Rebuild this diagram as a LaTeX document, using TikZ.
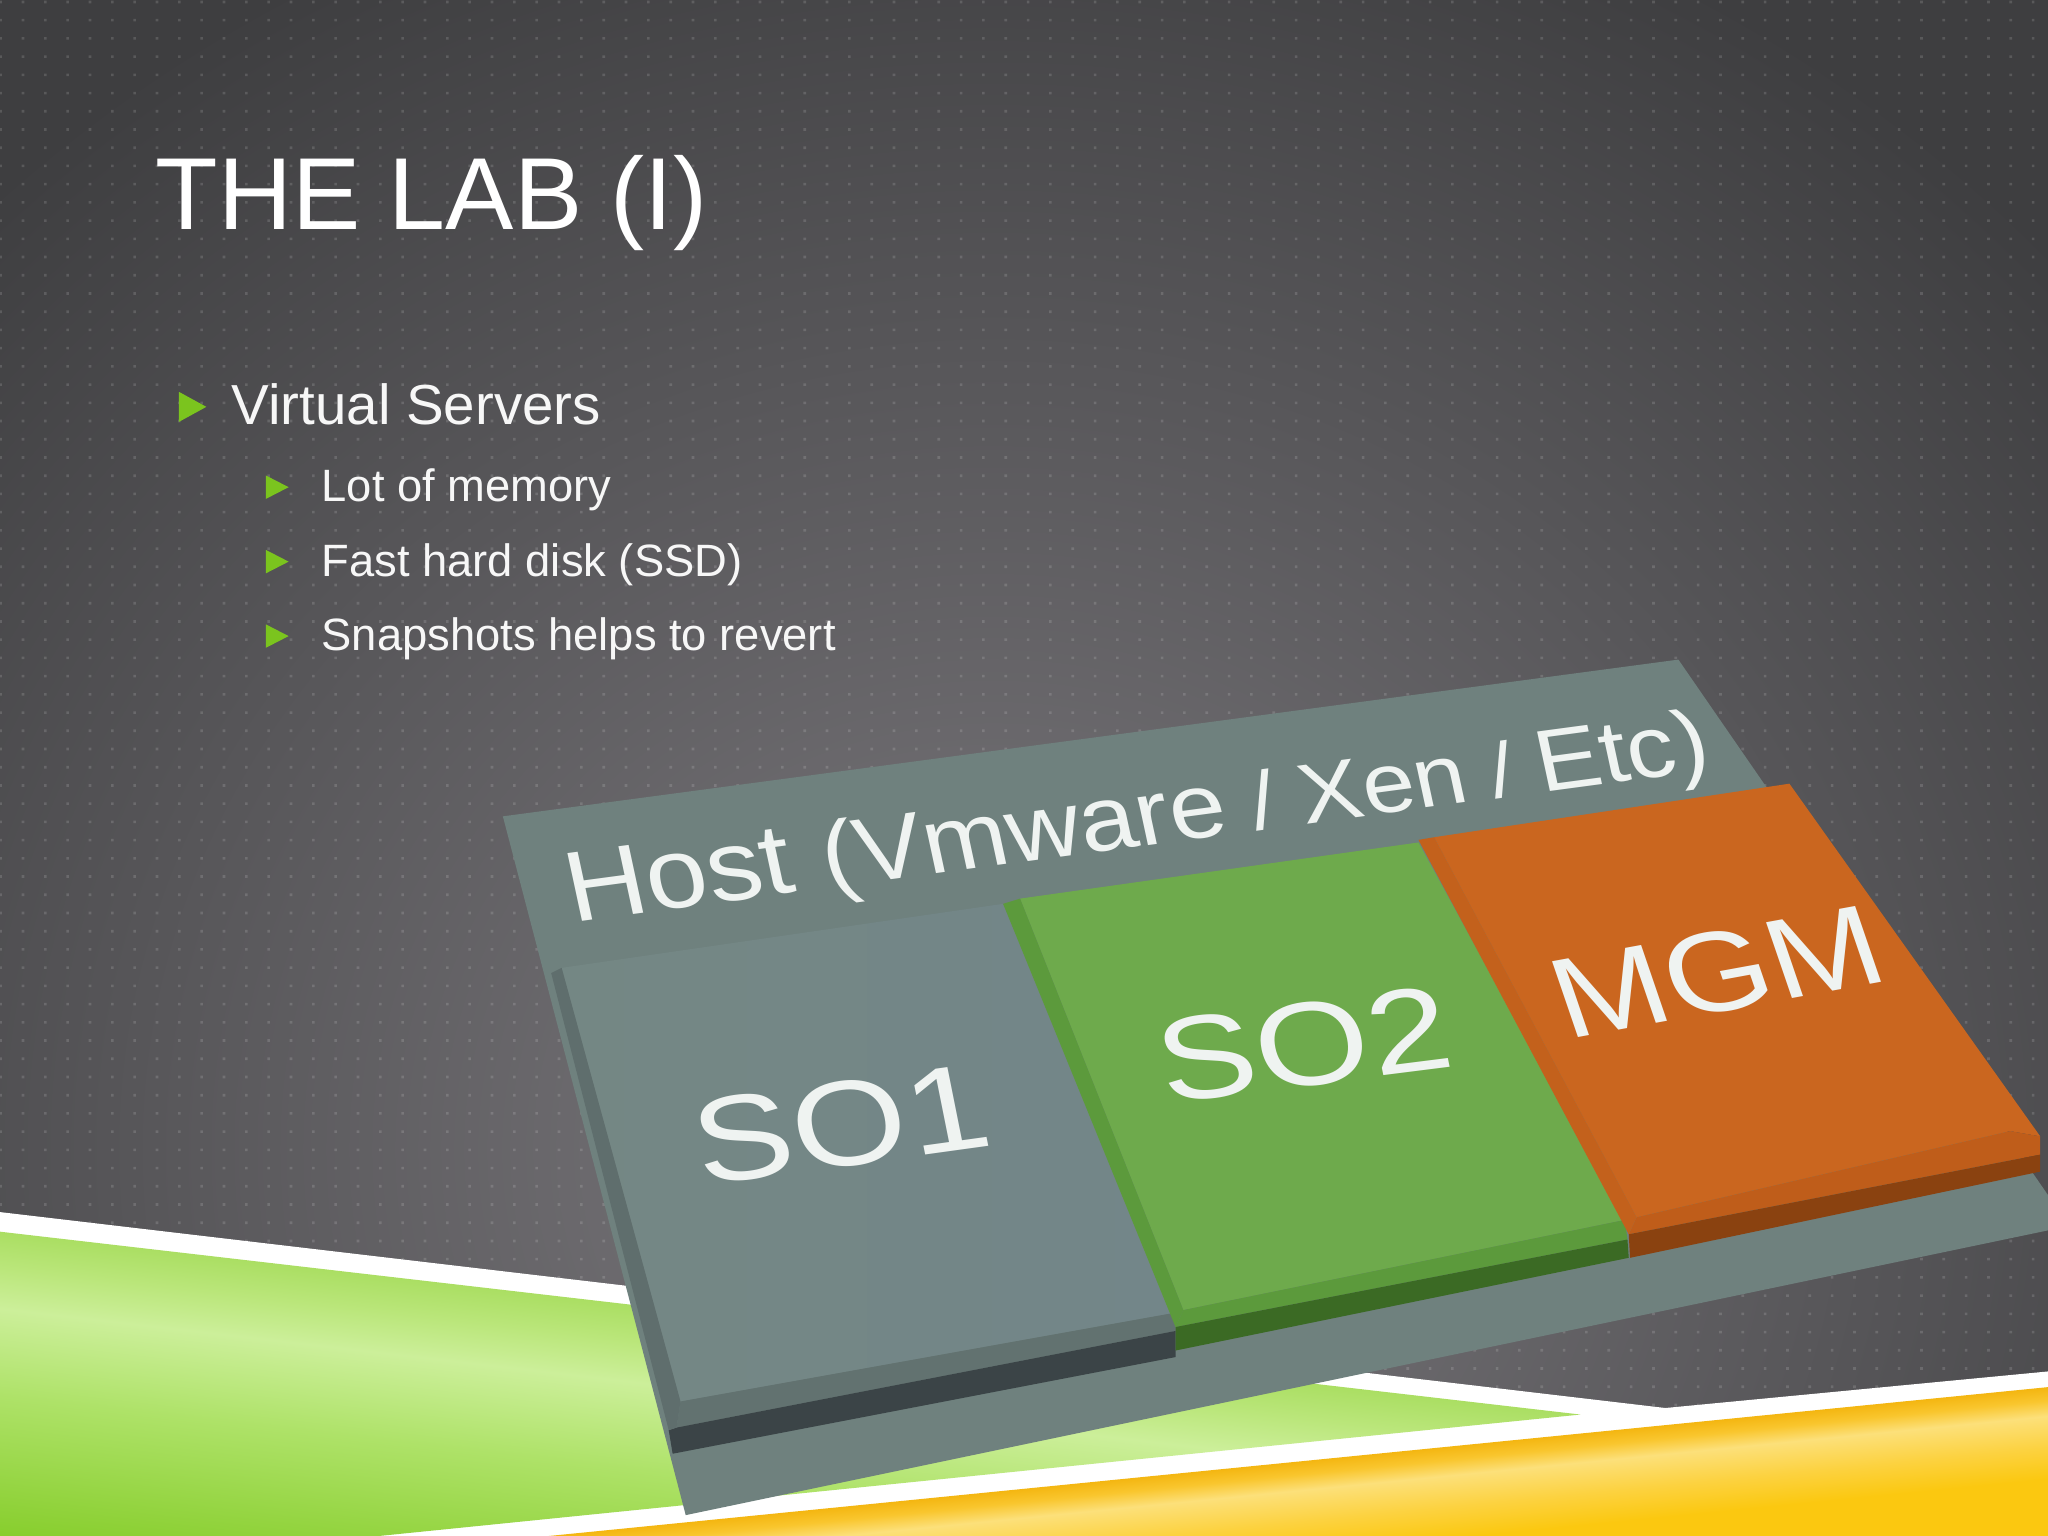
\documentclass[tikz,border=0pt]{standalone}
\usepackage{fontspec}
\setmainfont{Liberation Sans}
\definecolor{bgin}{HTML}{706E72}
\definecolor{bgout}{HTML}{3E3E40}
\definecolor{ga}{HTML}{7FC81F}
\definecolor{gb}{HTML}{88CE2E}
\definecolor{gc}{HTML}{AEE268}
\definecolor{gd}{HTML}{CCEF9A}
\definecolor{ge}{HTML}{BAE67A}
\definecolor{gf}{HTML}{A6DC5C}
\definecolor{ya}{HTML}{FBC810}
\definecolor{yb}{HTML}{FCD240}
\definecolor{yc}{HTML}{FCE07A}
\definecolor{yd}{HTML}{F9C62E}
\definecolor{ye}{HTML}{F4B611}
\definecolor{bullet}{HTML}{7BC41E}
\definecolor{plate}{HTML}{6F817E}
\definecolor{sface}{HTML}{748784}
\definecolor{sfaceb}{HTML}{738689}
\definecolor{sbev}{HTML}{5F6E6D}
\definecolor{sdark}{HTML}{3B4447}
\definecolor{gface}{HTML}{6EAA4C}
\definecolor{gbev}{HTML}{5C9A3C}
\definecolor{gdark}{HTML}{3B6A24}
\definecolor{oface}{HTML}{CA661F}
\definecolor{obev}{HTML}{BF5D1A}
\definecolor{odark}{HTML}{8A4210}
\definecolor{lbl}{HTML}{EFF3F1}
\pgfdeclareradialshading{bgglow}{\pgfpointorigin}{color(0bp)=(bgin); color(5bp)=(bgin); color(25bp)=(bgout); color(50bp)=(bgout); color(100bp)=(bgout)}
\pgfdeclareverticalshading{greenband}{100bp}{color(0bp)=(ga); color(25bp)=(ga); color(35bp)=(gb); color(50bp)=(gc); color(59.5bp)=(gd); color(64bp)=(ge); color(69bp)=(gf); color(100bp)=(gf)}
\pgfdeclareverticalshading{yellowband}{100bp}{color(0bp)=(ya); color(55bp)=(ya); color(61bp)=(yb); color(67bp)=(yc); color(70bp)=(yd); color(72.5bp)=(ye); color(100bp)=(ye)}
\newcommand{\fsz}[1]{\fontsize{#1}{24}\selectfont}
\tikzset{
  bodytext/.style={anchor=base west,inner sep=0pt,text=white},
  facelabel/.style={anchor=base west,inner sep=0pt,text=lbl,font=\fsz{20},transform shape},
  marker/.style={fill=bullet}
}
\begin{document}
\begin{tikzpicture}[x=0.02cm,y=-0.02cm]
\useasboundingbox (0,0) rectangle (1568,1176);
% background
\fill[bgout] (0,0) rectangle (1568,1176);
\begin{scope}
\clip (0,0) rectangle (1568,1176);
\shade[shading=bgglow] (760,880) ellipse [x radius=1100,y radius=1020];
\end{scope}
\foreach \j in {0,...,84}{\fill[white,opacity=.14] \foreach \i in {0,...,91}{ ({\i*17.1-.5},{\j*13.95+.5}) rectangle +(2,2) };}
% swoosh
\fill[white] (0,928) -- (1275,1078) -- (1568,1050) -- (1568,1176) -- (0,1176) -- cycle;
\begin{scope}
\clip (0,943) -- (1210,1083) -- (290,1176) -- (0,1176) -- cycle;
\begin{scope}[transform canvas={rotate around={-6.6:(0,943)}}]
\shade[shading=greenband] (-200,893) rectangle (1500,1243);
\end{scope}
\end{scope}
\begin{scope}
\clip (1568,1062) -- (420,1176) -- (1568,1176) -- cycle;
\begin{scope}[transform canvas={rotate around={5.67:(1568,1062)}}]
\shade[shading=yellowband] (100,1052) rectangle (1800,1252);
\end{scope}
\end{scope}
% plate
\fill[plate] (385,625) -- (1285,505) -- (1568,915) -- (1568,942) -- (525,1160) -- cycle;
% SO1
\shade[left color=sface,right color=sfaceb] (430,741) -- (768,692) -- (900,1005) -- (521,1073) -- cycle;
\fill[sbev!85!sface] (521,1073) -- (900,1005) -- (900,1019) -- (518,1093) -- cycle;
\fill[sdark] (512,1095) -- (518,1093) -- (900,1019) -- (900,1039) -- (515,1113) -- cycle;
\fill[sbev] (422,745) -- (430,741) -- (521,1073) -- (518,1093) -- (512,1095) -- cycle;
% SO2
\fill[gface] (781,688) -- (1086,645) -- (1244,934) -- (906,1003) -- cycle;
\fill[gbev] (906,1003) -- (1244,934) -- (1246,949) -- (900,1016) -- cycle;
\fill[gdark] (900,1016) -- (1246,949) -- (1247,963) -- (900,1034) -- cycle;
\fill[gbev] (768,692) -- (781,688) -- (906,1003) -- (900,1016) -- cycle;
% MGM
\fill[oface] (1098,641) -- (1370,600) -- (1562,870) -- (1539,866) -- (1253,932) -- cycle;
\fill[obev] (1253,932) -- (1539,866) -- (1562,870) -- (1562,884) -- (1247,945) -- cycle;
\fill[odark] (1247,945) -- (1562,884) -- (1562,897) -- (1248,963) -- cycle;
\fill[obev!60!oface] (1086,643) -- (1098,641) -- (1253,932) -- (1247,945) -- cycle;
% face labels
\node[facelabel,cm={2.17,.29,-.42,1.95,(0,0)}] (host) at (438,706) {{\fsz{22}Host }{\fsz{20.2}(Vmware}{\fsz{18} / }{\fsz{18.7}Xen}{\fsz{17} / }{\fsz{19.3}Etc)}};
\node[facelabel,cm={3.19,.44,-.52,2.6,(0,0)}] (so1) at (537,908) {SO1};
\node[facelabel,cm={3.17,.40,-.52,2.55,(0,0)}] (so2) at (892,845) {SO2};
\node[facelabel,cm={2.9,.53,-.82,2.4,(0,0)}] (mgm) at (1199,796) {MGM};
% title and bullets
\node[bodytext,font=\fsz{44.6}] (title) at (119,176) {THE LAB (I)};
\fill[marker] (137,300) -- (158,311.5) -- (137,323) -- cycle;
\node[bodytext,text=white!97!black,font=\fsz{24.6}] (virt) at (177,325) {Virtual Servers};
\fill[marker] (203.5,364) -- (221,373) -- (203.5,382) -- cycle;
\node[bodytext,text=white!97!black,font=\fsz{19.75}] (mem) at (246,384) {Lot of memory};
\fill[marker] (203.5,421) -- (221,430) -- (203.5,439) -- cycle;
\node[bodytext,text=white!97!black,font=\fsz{19.75}] (ssd) at (246,441) {Fast hard disk (SSD)};
\fill[marker] (203.5,478) -- (221,487) -- (203.5,496) -- cycle;
\node[bodytext,text=white!97!black,font=\fsz{19.75}] (snap) at (246,498) {Snapshots helps to revert};
\end{tikzpicture}
\end{document}
